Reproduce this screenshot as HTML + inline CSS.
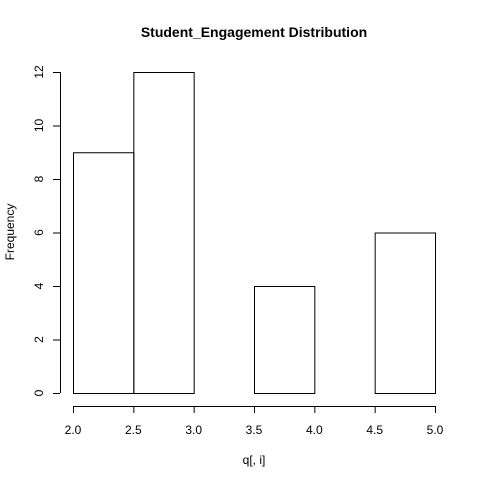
<!DOCTYPE html>
<html><head><meta charset="utf-8"><style>
body{margin:0;background:#fff}
svg{display:block;font-family:"Liberation Sans",Arial,sans-serif}
</style></head><body>
<svg id="chart" width="480" height="480" viewBox="0 0 480 480">
<rect width="480" height="480" fill="#fff"/>
<text x="254" y="37" text-anchor="middle" font-weight="bold" font-size="14">Student_Engagement Distribution</text>
<text x="254" y="464" text-anchor="middle" font-size="12">q[, i]</text>
<text transform="translate(14,232) rotate(-90)" text-anchor="middle" font-size="12">Frequency</text>
<g id="bars"></g><g id="xaxis"></g><g id="yaxis"></g>
</svg>
<script>
const breaks=[2.0,2.5,3.0,3.5,4.0,4.5,5.0];
const counts=[9,12,0,4,0,6];
const xTicks=[2.0,2.5,3.0,3.5,4.0,4.5,5.0];
const xTickLabels=["2.0","2.5","3.0","3.5","4.0","4.5","5.0"];
const yTicks=[0,2,4,6,8,10,12];
const NS="http://www.w3.org/2000/svg";
const xs=v=>73+(v-2)*(435-73)/3;
const ys=v=>393-v*(393-72)/12;
function mk(t,a,p){const e=document.createElementNS(NS,t);for(const k in a)e.setAttribute(k,a[k]);p.appendChild(e);return e;}
const bars=document.getElementById('bars');
counts.forEach((c,i)=>{
  const r=mk('rect',{x:xs(breaks[i])+0.5,y:ys(c)+0.5,width:xs(breaks[i+1])-xs(breaks[i]),height:ys(0)-ys(c),fill:'none',stroke:'#000','stroke-width':1},bars);
  
  
});
const xa=document.getElementById('xaxis');


mk('line',{x1:xs(xTicks[0]),x2:xs(xTicks[xTicks.length-1]),y1:406.5,y2:406.5,stroke:'#000'},xa);
xTicks.forEach((t,i)=>{
  mk('line',{x1:xs(t)+0.5,x2:xs(t)+0.5,y1:406,y2:413,stroke:'#000'},xa);
  const tx=mk('text',{x:xs(t),y:434,'text-anchor':'middle','font-size':12},xa);
  tx.textContent=xTickLabels[i];
  
  
});
const ya=document.getElementById('yaxis');


mk('line',{x1:60.5,x2:60.5,y1:ys(yTicks[0]),y2:ys(yTicks[yTicks.length-1]),stroke:'#000'},ya);
yTicks.forEach(t=>{
  mk('line',{x1:53,x2:60,y1:ys(t)+0.5,y2:ys(t)+0.5,stroke:'#000'},ya);
  const tx=mk('text',{transform:`translate(43,${ys(t)}) rotate(-90)`,'text-anchor':'middle','font-size':12},ya);
  tx.textContent=String(t);
  
  
});
</script>
</body></html>
